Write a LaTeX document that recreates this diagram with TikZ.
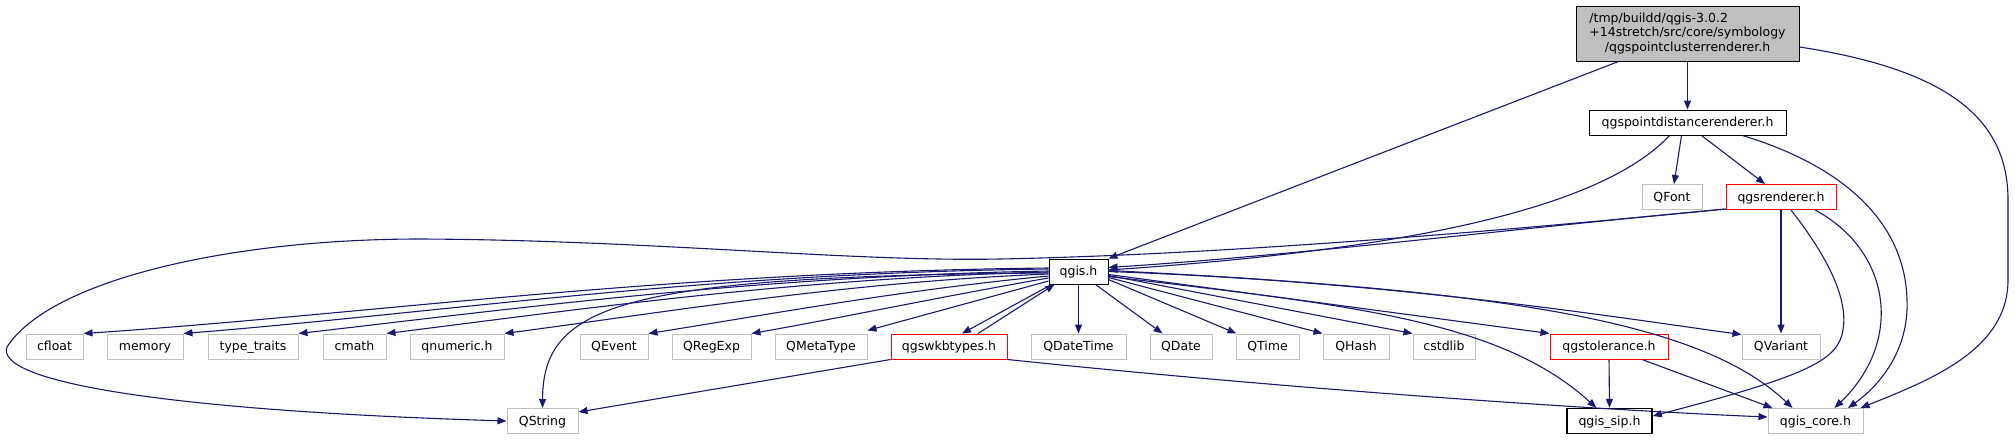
\documentclass[tikz,border=0pt]{standalone}
\usepackage{fontspec}
\setmainfont{DejaVu Sans}
\usetikzlibrary{arrows.meta}
\definecolor{edgeblue}{HTML}{191970}
\definecolor{grayline}{HTML}{BFBFBF}
\definecolor{redline}{HTML}{FF0000}
\definecolor{rootfill}{HTML}{BFBFBF}
\newsavebox\linetwobox
\begin{document}
\sbox\linetwobox{\fontsize{12.5}{14.5}\selectfont +14stretch/src/core/symbology}%
\begin{tikzpicture}[x=1pt,y=-1pt,
  box/.style={draw, line width=1pt, inner sep=0pt, minimum height=25pt, text height=10pt, text depth=2pt, font=\fontsize{12.5}{14.5}\selectfont, fill=white},
  doc/.style={box, draw=black},
  ext/.style={box, draw=grayline},
  trunc/.style={box, draw=redline},
  rootbox/.style={draw=black, fill=rootfill, line width=1pt, inner sep=0pt, minimum width=223pt, minimum height=55pt, align=center, font=\fontsize{12.5}{14.5}\selectfont},
  link/.style={draw=edgeblue, line width=1.1pt, -{Triangle[length=9pt,width=7pt]}}]
\useasboundingbox (0,0) rectangle (2015,440);

% nodes
\node[rootbox] (root) at (1687.5,33.5) {\makebox[\wd\linetwobox][l]{/tmp/buildd/qgis-3.0.2}\\\usebox{\linetwobox}\\/qgspointclusterrenderer.h};
\node[doc, minimum width=197pt] (pdr) at (1687.5,122.5) {qgspointdistancerenderer.h};
\node[ext, minimum width=60pt] (qfont) at (1672,197) {QFont};
\node[trunc, minimum width=110pt] (qgsr) at (1781,197) {qgsrenderer.h};
\node[doc, minimum width=59pt] (qgis) at (1078.5,271.5) {qgis.h};

\node[ext, minimum width=57pt] (cfloat) at (54.5,346.5) {cfloat};
\node[ext, minimum width=76pt] (memory) at (145,346.5) {memory};
\node[ext, minimum width=90pt] (typetraits) at (253,346.5) {type\_traits};
\node[ext, minimum width=63pt] (cmath) at (354.5,346.5) {cmath};
\node[ext, minimum width=94pt] (qnumeric) at (457,346.5) {qnumeric.h};
\node[ext, minimum width=68pt] (qevent) at (614,346.5) {QEvent};
\node[ext, minimum width=79pt] (qregexp) at (711.5,346.5) {QRegExp};
\node[ext, minimum width=92pt] (qmetatype) at (821,346.5) {QMetaType};
\node[trunc, minimum width=116pt] (qgsw) at (949,346.5) {qgswkbtypes.h};
\node[ext, minimum width=95pt] (qdatetime) at (1078.5,346.5) {QDateTime};
\node[ext, minimum width=62pt] (qdate) at (1181,346.5) {QDate};
\node[ext, minimum width=63pt] (qtime) at (1267.5,346.5) {QTime};
\node[ext, minimum width=66pt] (qhash) at (1356,346.5) {QHash};
\node[ext, minimum width=62pt] (cstdlib) at (1444,346.5) {cstdlib};
\node[trunc, minimum width=118pt] (qgstol) at (1609,346.5) {qgstolerance.h};
\node[ext, minimum width=78pt] (qvariant) at (1781,346.5) {QVariant};

\node[ext, minimum width=71pt] (qstring) at (542.5,421) {QString};
\node[doc, minimum width=85pt, line width=1.4pt] (qgissip) at (1609.5,421) {qgis\_sip.h};
\node[ext, minimum width=95pt] (qgiscore) at (1815.5,421) {qgis\_core.h};

% root edges
\draw[link] (root.south) -- (pdr.north);
\draw[link] ([xshift=43pt]root.south west) -- (qgis.north east);
\draw[link] ([yshift=-13.5pt]root.east) .. controls (1950,70) and (2008,120) .. (2008,200) -- (2008,280) .. controls (2008,350) and (1930,380) .. ([xshift=-3pt]qgiscore.north east);

% pdr edges
\draw[link] ([xshift=-6pt]pdr.south) -- ([xshift=2pt]qfont.north);
\draw[link] ([xshift=14pt]pdr.south) -- ([xshift=-16pt]qgsr.north);
\draw[link] ([xshift=-18pt]pdr.south) .. controls (1600,210) and (1400,250) .. ([yshift=1.5pt]qgis.east);
\draw[link] ([xshift=55pt]pdr.south) .. controls (1840,165) and (1905,220) .. (1907,300) .. controls (1909,350) and (1880,385) .. ([xshift=32.5pt]qgiscore.north);

% qgsrenderer edges
\draw[link] ([yshift=1pt]qgsr.south west) .. controls (1500,230) and (1300,255) .. ([yshift=4pt]qgis.east);
\draw[link] ([yshift=1pt]qgsr.south west) .. controls (1450,236) and (1200,255) .. (1000,259) .. controls (850,262) and (650,240) .. (420,239) .. controls (230,239) and (50,280) .. (7,347) .. controls (-5,380) and (150,410) .. (qstring.west);
\draw[link] (qgsr.south) -- (qvariant.north);
\draw[link] ([xshift=10pt]qgsr.south) .. controls (1830,260) and (1848,300) .. (1843,330) .. controls (1838,360) and (1810,375) .. ([yshift=5pt]qgissip.east);
\draw[link] ([xshift=34pt]qgsr.south) .. controls (1890,250) and (1905,340) .. ([xshift=19pt]qgiscore.north);

% qgis.h edges to the left
\draw[link] ([yshift=3.5pt]qgis.west) .. controls (663,272) and (373,314) .. (cfloat.north east);
\draw[link] ([yshift=2.5pt]qgis.west) .. controls (700,273) and (450,312) .. (memory.north east);
\draw[link] ([yshift=0.5pt]qgis.west) .. controls (760,276) and (520,308) .. (typetraits.north east);
\draw[link] ([yshift=-0.5pt]qgis.west) .. controls (800,278) and (590,308) .. (cmath.north east);
\draw[link] ([yshift=-2.5pt]qgis.west) .. controls (850,282) and (680,310) .. (qnumeric.north east);
\draw[link] ([yshift=-4.5pt]qgis.west) .. controls (900,290) and (760,316) .. (qevent.north east);
\draw[link] ([yshift=-6.5pt]qgis.west) .. controls (950,295) and (840,318) .. (qregexp.north east);
\draw[link] ([yshift=-9.5pt]qgis.west) -- ([yshift=3pt]qmetatype.north east);
\draw[link] ([yshift=-1.5pt]qgis.west) .. controls (620,276) and (543,305) .. (qstring.north);
\draw[link] ([xshift=3pt]qgis.south west) -- ([xshift=13pt]qgsw.north);
\draw[link] ([xshift=29pt]qgsw.north) -- ([xshift=6pt]qgis.south west);

% qgis.h edges to the right
\draw[link] (qgis.south) -- (qdatetime.north);
\draw[link] ([xshift=-13pt]qgis.south east) -- ([xshift=13pt]qdate.north west);
\draw[link] ([yshift=-8pt]qgis.east) -- ([xshift=1pt]qtime.north west);
\draw[link] ([yshift=-6pt]qgis.east) -- (qhash.north west);
\draw[link] ([yshift=-4pt]qgis.east) -- (cstdlib.north west);
\draw[link] ([yshift=-3pt]qgis.east) -- (qgstol.north west);
\draw[link] ([yshift=-5pt]qgis.east) .. controls (1350,305) and (1500,320) .. ([xshift=30pt]qgissip.north west);
\draw[link] (qgis.east) .. controls (1400,282) and (1620,318) .. ([yshift=-1pt]qvariant.north west);
\draw[link] ([yshift=1pt]qgis.east) .. controls (1500,290) and (1700,320) .. ([xshift=25pt]qgiscore.north west);

% qgswkbtypes edges
\draw[link] (qgsw.south west) -- ([yshift=-4pt]qstring.north east);
\draw[link] (qgsw.south east) .. controls (1300,390) and (1600,410) .. ([yshift=4pt]qgiscore.west);

% qgstolerance edges
\draw[link] (qgstol.south) -- (qgissip.north);
\draw[link] ([xshift=33pt]qgstol.south) -- ([xshift=5pt]qgiscore.north west);
\end{tikzpicture}
\end{document}
